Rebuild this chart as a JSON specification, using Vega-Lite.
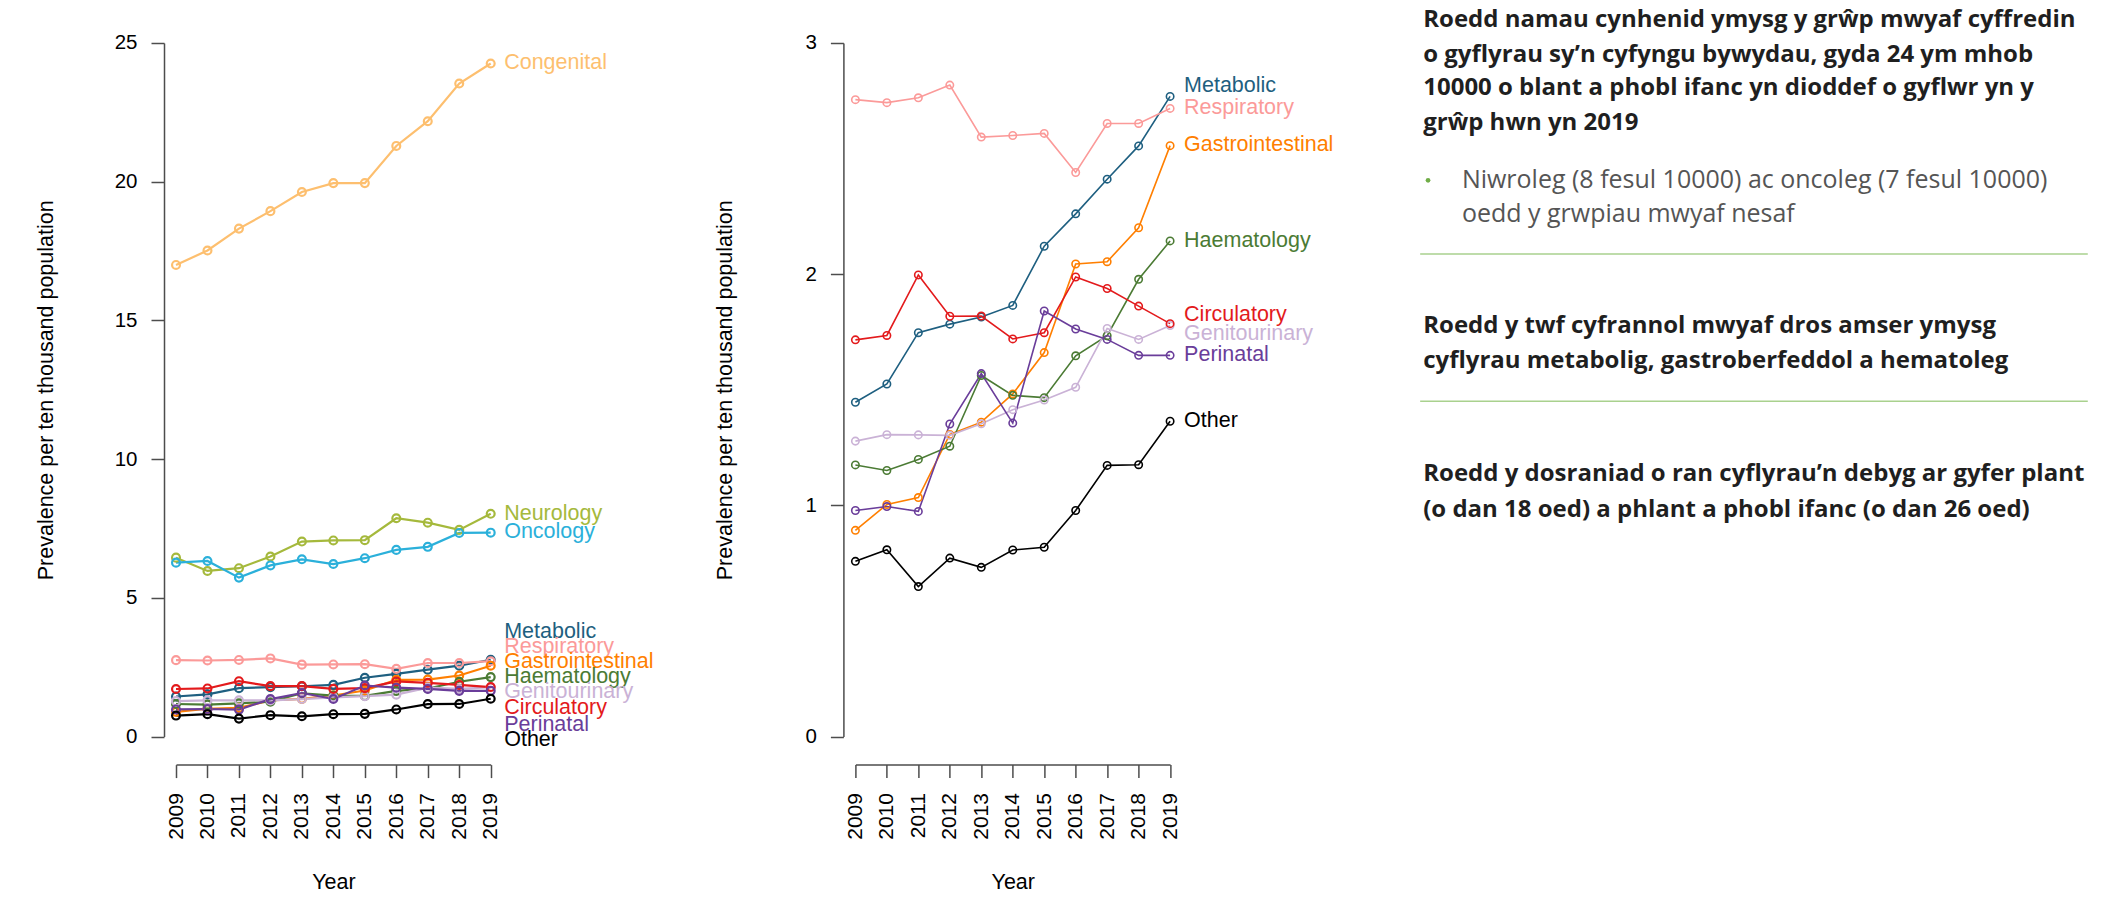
{
  "$schema": "https://vega.github.io/schema/vega-lite/v6.json",
  "background": "white",
  "autosize": {"type": "pad"},
  "padding": {"left": 35, "top": 7, "right": 0, "bottom": 0},
  "bounds": "flush",
  "spacing": 364.4,
  "config": {
    "view": {"stroke": null},
    "font": "Liberation Sans",
    "axis": {"grid": false, "domainColor": "#4d4d4d", "tickColor": "#4d4d4d", "domainWidth": 1.5, "tickWidth": 1.5, "labelColor": "#000", "titleColor": "#000", "labelFont": "Liberation Sans", "titleFont": "Liberation Sans", "labelFontSize": 20.5, "titleFontSize": 21.5, "titleFontWeight": "normal", "tickSize": 13, "labelOverlap": false, "labelFlush": false},
    "axisX": {"values": [2009, 2010, 2011, 2012, 2013, 2014, 2015, 2016, 2017, 2018, 2019], "format": "d", "labelAngle": 270, "offset": 28, "labelPadding": 15, "labelFontSize": 21, "titleY": 123.7, "titleBaseline": "alphabetic"},
    "axisY": {"format": "d", "offset": 12, "labelPadding": 14, "titleX": -111.6, "titleBaseline": "alphabetic", "titleAngle": 270}
  },
  "datasets": {
    "series": [
      {"condition": "Congenital", "year": 2009, "value": 17.0}, {"condition": "Congenital", "year": 2010, "value": 17.52}, {"condition": "Congenital", "year": 2011, "value": 18.31}, {"condition": "Congenital", "year": 2012, "value": 18.94}, {"condition": "Congenital", "year": 2013, "value": 19.63}, {"condition": "Congenital", "year": 2014, "value": 19.95}, {"condition": "Congenital", "year": 2015, "value": 19.95}, {"condition": "Congenital", "year": 2016, "value": 21.29}, {"condition": "Congenital", "year": 2017, "value": 22.18}, {"condition": "Congenital", "year": 2018, "value": 23.54}, {"condition": "Congenital", "year": 2019, "value": 24.26},
      {"condition": "Neurology", "year": 2009, "value": 6.45}, {"condition": "Neurology", "year": 2010, "value": 5.97}, {"condition": "Neurology", "year": 2011, "value": 6.07}, {"condition": "Neurology", "year": 2012, "value": 6.49}, {"condition": "Neurology", "year": 2013, "value": 7.03}, {"condition": "Neurology", "year": 2014, "value": 7.07}, {"condition": "Neurology", "year": 2015, "value": 7.08}, {"condition": "Neurology", "year": 2016, "value": 7.87}, {"condition": "Neurology", "year": 2017, "value": 7.71}, {"condition": "Neurology", "year": 2018, "value": 7.45}, {"condition": "Neurology", "year": 2019, "value": 8.03},
      {"condition": "Oncology", "year": 2009, "value": 6.27}, {"condition": "Oncology", "year": 2010, "value": 6.33}, {"condition": "Oncology", "year": 2011, "value": 5.73}, {"condition": "Oncology", "year": 2012, "value": 6.17}, {"condition": "Oncology", "year": 2013, "value": 6.39}, {"condition": "Oncology", "year": 2014, "value": 6.22}, {"condition": "Oncology", "year": 2015, "value": 6.43}, {"condition": "Oncology", "year": 2016, "value": 6.73}, {"condition": "Oncology", "year": 2017, "value": 6.84}, {"condition": "Oncology", "year": 2018, "value": 7.34}, {"condition": "Oncology", "year": 2019, "value": 7.35},
      {"condition": "Metabolic", "year": 2009, "value": 1.446}, {"condition": "Metabolic", "year": 2010, "value": 1.525}, {"condition": "Metabolic", "year": 2011, "value": 1.747}, {"condition": "Metabolic", "year": 2012, "value": 1.784}, {"condition": "Metabolic", "year": 2013, "value": 1.815}, {"condition": "Metabolic", "year": 2014, "value": 1.865}, {"condition": "Metabolic", "year": 2015, "value": 2.121}, {"condition": "Metabolic", "year": 2016, "value": 2.261}, {"condition": "Metabolic", "year": 2017, "value": 2.411}, {"condition": "Metabolic", "year": 2018, "value": 2.555}, {"condition": "Metabolic", "year": 2019, "value": 2.769},
      {"condition": "Respiratory", "year": 2009, "value": 2.755}, {"condition": "Respiratory", "year": 2010, "value": 2.742}, {"condition": "Respiratory", "year": 2011, "value": 2.763}, {"condition": "Respiratory", "year": 2012, "value": 2.818}, {"condition": "Respiratory", "year": 2013, "value": 2.593}, {"condition": "Respiratory", "year": 2014, "value": 2.6}, {"condition": "Respiratory", "year": 2015, "value": 2.609}, {"condition": "Respiratory", "year": 2016, "value": 2.44}, {"condition": "Respiratory", "year": 2017, "value": 2.652}, {"condition": "Respiratory", "year": 2018, "value": 2.652}, {"condition": "Respiratory", "year": 2019, "value": 2.717},
      {"condition": "Gastrointestinal", "year": 2009, "value": 0.892}, {"condition": "Gastrointestinal", "year": 2010, "value": 1.004}, {"condition": "Gastrointestinal", "year": 2011, "value": 1.034}, {"condition": "Gastrointestinal", "year": 2012, "value": 1.307}, {"condition": "Gastrointestinal", "year": 2013, "value": 1.36}, {"condition": "Gastrointestinal", "year": 2014, "value": 1.482}, {"condition": "Gastrointestinal", "year": 2015, "value": 1.661}, {"condition": "Gastrointestinal", "year": 2016, "value": 2.044}, {"condition": "Gastrointestinal", "year": 2017, "value": 2.054}, {"condition": "Gastrointestinal", "year": 2018, "value": 2.201}, {"condition": "Gastrointestinal", "year": 2019, "value": 2.556},
      {"condition": "Haematology", "year": 2009, "value": 1.175}, {"condition": "Haematology", "year": 2010, "value": 1.151}, {"condition": "Haematology", "year": 2011, "value": 1.199}, {"condition": "Haematology", "year": 2012, "value": 1.256}, {"condition": "Haematology", "year": 2013, "value": 1.562}, {"condition": "Haematology", "year": 2014, "value": 1.476}, {"condition": "Haematology", "year": 2015, "value": 1.466}, {"condition": "Haematology", "year": 2016, "value": 1.647}, {"condition": "Haematology", "year": 2017, "value": 1.734}, {"condition": "Haematology", "year": 2018, "value": 1.978}, {"condition": "Haematology", "year": 2019, "value": 2.144},
      {"condition": "Genitourinary", "year": 2009, "value": 1.278}, {"condition": "Genitourinary", "year": 2010, "value": 1.306}, {"condition": "Genitourinary", "year": 2011, "value": 1.305}, {"condition": "Genitourinary", "year": 2012, "value": 1.303}, {"condition": "Genitourinary", "year": 2013, "value": 1.353}, {"condition": "Genitourinary", "year": 2014, "value": 1.414}, {"condition": "Genitourinary", "year": 2015, "value": 1.456}, {"condition": "Genitourinary", "year": 2016, "value": 1.511}, {"condition": "Genitourinary", "year": 2017, "value": 1.765}, {"condition": "Genitourinary", "year": 2018, "value": 1.718}, {"condition": "Genitourinary", "year": 2019, "value": 1.778},
      {"condition": "Circulatory", "year": 2009, "value": 1.716}, {"condition": "Circulatory", "year": 2010, "value": 1.735}, {"condition": "Circulatory", "year": 2011, "value": 1.997}, {"condition": "Circulatory", "year": 2012, "value": 1.818}, {"condition": "Circulatory", "year": 2013, "value": 1.819}, {"condition": "Circulatory", "year": 2014, "value": 1.72}, {"condition": "Circulatory", "year": 2015, "value": 1.747}, {"condition": "Circulatory", "year": 2016, "value": 1.988}, {"condition": "Circulatory", "year": 2017, "value": 1.938}, {"condition": "Circulatory", "year": 2018, "value": 1.862}, {"condition": "Circulatory", "year": 2019, "value": 1.786},
      {"condition": "Perinatal", "year": 2009, "value": 0.978}, {"condition": "Perinatal", "year": 2010, "value": 0.995}, {"condition": "Perinatal", "year": 2011, "value": 0.974}, {"condition": "Perinatal", "year": 2012, "value": 1.352}, {"condition": "Perinatal", "year": 2013, "value": 1.57}, {"condition": "Perinatal", "year": 2014, "value": 1.356}, {"condition": "Perinatal", "year": 2015, "value": 1.841}, {"condition": "Perinatal", "year": 2016, "value": 1.763}, {"condition": "Perinatal", "year": 2017, "value": 1.718}, {"condition": "Perinatal", "year": 2018, "value": 1.649}, {"condition": "Perinatal", "year": 2019, "value": 1.649},
      {"condition": "Other", "year": 2009, "value": 0.758}, {"condition": "Other", "year": 2010, "value": 0.808}, {"condition": "Other", "year": 2011, "value": 0.649}, {"condition": "Other", "year": 2012, "value": 0.772}, {"condition": "Other", "year": 2013, "value": 0.732}, {"condition": "Other", "year": 2014, "value": 0.807}, {"condition": "Other", "year": 2015, "value": 0.819}, {"condition": "Other", "year": 2016, "value": 0.978}, {"condition": "Other", "year": 2017, "value": 1.173}, {"condition": "Other", "year": 2018, "value": 1.176}, {"condition": "Other", "year": 2019, "value": 1.364}
    ],
    "leftTags": [
      {"condition": "Congenital", "pos": 24.27},
      {"condition": "Neurology", "pos": 8.03},
      {"condition": "Oncology", "pos": 7.36},
      {"condition": "Metabolic", "pos": 3.76},
      {"condition": "Respiratory", "pos": 3.22},
      {"condition": "Gastrointestinal", "pos": 2.68},
      {"condition": "Haematology", "pos": 2.16},
      {"condition": "Genitourinary", "pos": 1.6},
      {"condition": "Circulatory", "pos": 1.03},
      {"condition": "Perinatal", "pos": 0.42},
      {"condition": "Other", "pos": -0.11}
    ],
    "rightTags": [
      {"condition": "Metabolic", "pos": 2.815},
      {"condition": "Respiratory", "pos": 2.717},
      {"condition": "Gastrointestinal", "pos": 2.56},
      {"condition": "Haematology", "pos": 2.144},
      {"condition": "Circulatory", "pos": 1.823},
      {"condition": "Genitourinary", "pos": 1.743},
      {"condition": "Perinatal", "pos": 1.652},
      {"condition": "Other", "pos": 1.364}
    ],
    "headings": [
      {"row": 0, "text": "Roedd namau cynhenid ymysg y grŵp mwyaf cyffredin"},
      {"row": 1.012, "text": "o gyflyrau sy’n cyfyngu bywydau, gyda 24 ym mhob"},
      {"row": 1.986, "text": "10000 o blant a phobl ifanc yn dioddef o gyflwr yn y"},
      {"row": 2.988, "text": "grŵp hwn yn 2019"},
      {"row": 8.844, "text": "Roedd y twf cyfrannol mwyaf dros amser ymysg"},
      {"row": 9.855, "text": "cyflyrau metabolig, gastroberfeddol a hematoleg"},
      {"row": 13.13, "text": "Roedd y dosraniad o ran cyflyrau’n debyg ar gyfer plant"},
      {"row": 14.16, "text": "(o dan 18 oed) a phlant a phobl ifanc (o dan 26 oed)"}
    ],
    "bullet": [
      {"row": 4.644, "text": "Niwroleg (8 fesul 10000) ac oncoleg (7 fesul 10000)"},
      {"row": 5.618, "text": "oedd y grwpiau mwyaf nesaf"}
    ],
    "bulletDot": [{"row": 4.644}],
    "separators": [{"row": 6.775}, {"row": 11.03}]
  },
  "hconcat": [
    {
      "width": 314.7,
      "height": 693.6,
      "layer": [
        {"data": {"name": "series"},
         "mark": {"type": "line", "strokeWidth": 2.2},
         "encoding": {
          "x": {"field": "year", "type": "quantitative", "scale": {"domain": [2009, 2019], "nice": false, "zero": false}, "axis": {"title": "Year"}},
          "y": {"field": "value", "type": "quantitative", "scale": {"domain": [0, 25], "nice": false, "zero": false}, "axis": {"title": "Prevalence per ten thousand population", "values": [0, 5, 10, 15, 20, 25]}},
          "color": {"field": "condition", "type": "nominal",
            "scale": {"domain": ["Congenital", "Neurology", "Oncology", "Metabolic", "Respiratory", "Gastrointestinal", "Haematology", "Genitourinary", "Circulatory", "Perinatal", "Other"],
                      "range": ["#FDBF6F", "#A5B93C", "#2BB0DA", "#1E5F80", "#FB9A99", "#FF7F00", "#4B7B34", "#CAB2D6", "#E31A1C", "#6A3D9A", "#000000"]},
            "legend": null}
         }},
        {"data": {"name": "series"},
         "mark": {"type": "point", "shape": "circle", "filled": false, "size": 62, "strokeWidth": 2.2, "opacity": 1},
         "encoding": {
          "x": {"field": "year", "type": "quantitative", "axis": {"title": "Year"}},
          "y": {"field": "value", "type": "quantitative", "axis": {"title": "Prevalence per ten thousand population", "values": [0, 5, 10, 15, 20, 25]}},
          "color": {"field": "condition", "type": "nominal", "legend": null}
         }},
        {"data": {"name": "leftTags"},
         "mark": {"type": "text", "align": "left", "baseline": "middle", "dx": 13.5, "fontSize": 21.5, "font": "Liberation Sans"},
         "encoding": {
          "x": {"datum": 2019, "type": "quantitative", "axis": {"title": "Year"}},
          "y": {"field": "pos", "type": "quantitative", "axis": {"title": "Prevalence per ten thousand population", "values": [0, 5, 10, 15, 20, 25]}},
          "text": {"field": "condition", "type": "nominal"},
          "color": {"field": "condition", "type": "nominal", "legend": null}
         }}
      ]
    },
    {
      "width": 314.7,
      "height": 693.6,
      "layer": [
        {"data": {"name": "series"},
         "transform": [{"filter": {"not": {"field": "condition", "oneOf": ["Congenital", "Neurology", "Oncology"]}}}],
         "mark": {"type": "line", "strokeWidth": 1.6},
         "encoding": {
          "x": {"field": "year", "type": "quantitative", "scale": {"domain": [2009, 2019], "nice": false, "zero": false}, "axis": {"title": "Year"}},
          "y": {"field": "value", "type": "quantitative", "scale": {"domain": [0, 3], "nice": false, "zero": false}, "axis": {"title": "Prevalence per ten thousand population", "values": [0, 1, 2, 3]}},
          "color": {"field": "condition", "type": "nominal",
            "scale": {"domain": ["Congenital", "Neurology", "Oncology", "Metabolic", "Respiratory", "Gastrointestinal", "Haematology", "Genitourinary", "Circulatory", "Perinatal", "Other"],
                      "range": ["#FDBF6F", "#A5B93C", "#2BB0DA", "#1E5F80", "#FB9A99", "#FF7F00", "#4B7B34", "#CAB2D6", "#E31A1C", "#6A3D9A", "#000000"]},
            "legend": null}
         }},
        {"data": {"name": "series"},
         "transform": [{"filter": {"not": {"field": "condition", "oneOf": ["Congenital", "Neurology", "Oncology"]}}}],
         "mark": {"type": "point", "shape": "circle", "filled": false, "size": 55, "strokeWidth": 1.6, "opacity": 1},
         "encoding": {
          "x": {"field": "year", "type": "quantitative", "axis": {"title": "Year"}},
          "y": {"field": "value", "type": "quantitative", "axis": {"title": "Prevalence per ten thousand population", "values": [0, 1, 2, 3]}},
          "color": {"field": "condition", "type": "nominal", "legend": null}
         }},
        {"data": {"name": "rightTags"},
         "mark": {"type": "text", "align": "left", "baseline": "middle", "dx": 14, "fontSize": 21.5, "font": "Liberation Sans"},
         "encoding": {
          "x": {"datum": 2019, "type": "quantitative", "axis": {"title": "Year"}},
          "y": {"field": "pos", "type": "quantitative", "axis": {"title": "Prevalence per ten thousand population", "values": [0, 1, 2, 3]}},
          "text": {"field": "condition", "type": "nominal"},
          "color": {"field": "condition", "type": "nominal", "legend": null}
         }}
      ]
    },
    {
      "width": 553,
      "height": 693.6,
      "encoding": {
        "y": {"field": "row", "type": "quantitative", "scale": {"domain": [0.676, 20.72], "reverse": true, "nice": false, "zero": false}, "axis": null}
      },
      "layer": [
        {"data": {"name": "headings"},
         "mark": {"type": "text", "align": "left", "baseline": "middle", "font": "Open Sans", "fontWeight": "bold", "fontSize": 24, "color": "#1f1f1f"},
         "encoding": {"x": {"datum": 0.0046, "scale": {"domain": [0.1717, 1], "nice": false, "zero": false}, "axis": null}, "text": {"field": "text"}}},
        {"data": {"name": "bullet"},
         "mark": {"type": "text", "align": "left", "baseline": "middle", "font": "Open Sans", "fontSize": 25, "color": "#555555"},
         "encoding": {"x": {"datum": 0.0625}, "text": {"field": "text"}}},
        {"data": {"name": "bulletDot"},
         "mark": {"type": "point", "shape": "circle", "filled": true, "size": 22, "color": "#70AD47", "opacity": 1},
         "encoding": {"x": {"datum": 0.0118}}},
        {"data": {"name": "separators"},
         "mark": {"type": "rule", "color": "#A9D18E", "strokeWidth": 1.5},
         "encoding": {"x": {"datum": 0}, "x2": {"datum": 1}}}
      ]
    }
  ]
}
